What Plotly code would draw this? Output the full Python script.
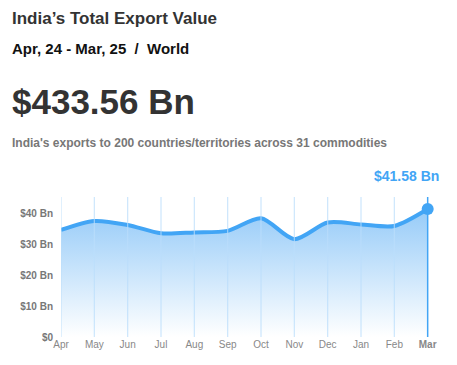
import plotly.graph_objects as go

months = ["Apr", "May", "Jun", "Jul", "Aug", "Sep", "Oct", "Nov", "Dec", "Jan", "Feb", "Mar"]
exports_bn = [34.8, 37.7, 36.4, 33.7, 34.0, 34.5, 38.6, 31.8, 37.2, 36.6, 36.1, 41.58]
x_tick_labels = months + ["Apr"]
y_ticks = [0, 10, 20, 30, 40]
y_tick_labels = ["$0", "$10 Bn", "$20 Bn", "$30 Bn", "$40 Bn"]

x = list(range(len(months)))
blue = "#42a5f5"
FONT = "Liberation Sans, Arial, sans-serif"

# page has an 8px body margin; figure coordinates are page - 8
W, H = 457, 365
L, T, B = 53, 189, 36
R = 0
pw = W - L - R
ph = H - T - B

fig = go.Figure()
fig.add_trace(go.Scatter(
    x=x, y=exports_bn, mode="lines",
    line=dict(color=blue, width=4, shape="spline", smoothing=0.8),
    fill="tozeroy",
    fillgradient=dict(type="vertical",
                      colorscale=[[0, "rgba(255,255,255,1)"], [1, "rgba(150,203,248,1)"]]),
    hoverinfo="skip", showlegend=False,
))
for i in x[:-1]:
    fig.add_shape(type="line", x0=i, x1=i, y0=0, y1=1, xref="x", yref="paper",
                  line=dict(color="rgba(187,222,251,0.75)", width=1.2), layer="above")
fig.add_shape(type="line", x0=x[-1], x1=x[-1], y0=0, y1=1, xref="x", yref="paper",
              line=dict(color=blue, width=1.5), layer="above")
fig.add_trace(go.Scatter(
    x=[x[-1]], y=[exports_bn[-1]], mode="markers",
    marker=dict(color=blue, size=12), hoverinfo="skip", showlegend=False, cliponaxis=False,
))

fig.add_annotation(x=x[-1], y=1, xref="x", yref="paper", yshift=21, xshift=13,
                   text=f"<b>${exports_bn[-1]:.2f} Bn</b>", showarrow=False,
                   xanchor="right", yanchor="middle",
                   font=dict(family=FONT, size=14, color=blue))

tick_text = [f"<b>{t}</b>" if i == len(months) - 1 else t for i, t in enumerate(x_tick_labels)]

fig.update_xaxes(range=[0, pw / (400 / 12)], tickmode="array",
                 tickvals=list(range(len(x_tick_labels))), ticktext=tick_text,
                 showgrid=False, zeroline=False, showline=False, ticks="",
                 ticklabeloverflow="allow", automargin=False,
                 tickfont=dict(family=FONT, size=10, color="#888888"), fixedrange=True)
fig.update_yaxes(range=[0, 45.5], tickmode="array", tickvals=y_ticks, ticktext=y_tick_labels,
                 showgrid=False, zeroline=False, showline=False, ticks="", ticklabelstandoff=7,
                 automargin=False,
                 tickfont=dict(family=FONT, size=10, color="#777777", weight="bold"), fixedrange=True)

header = [
    ("<b>India’s Total Export Value</b>", 18, 17, "#333333"),
    ("<b>Apr, 24 - Mar, 25  /  World</b>", 48, 15, "#111111"),
    ("<b>$433.56 Bn</b>", 101, 35, "#333333"),
    ("<b>India's exports to 200 countries/territories across 31 commodities</b>", 143, 12, "#777777"),
]
for text, ypx, size, color in header:
    yfig = ypx - 8
    yp = 1 + (T - yfig) / ph
    xp = (12 - 8 - 2 - L) / pw
    fig.add_annotation(x=xp, y=yp, xref="paper", yref="paper",
                       text=text, showarrow=False, xanchor="left", yanchor="middle",
                       font=dict(family=FONT, size=size, color=color))

fig.update_layout(
    width=W, height=H,
    margin=dict(l=L, r=R, t=T, b=B, autoexpand=False),
    paper_bgcolor="white", plot_bgcolor="white",
    font=dict(family=FONT),
)
fig.write_html("out.html")
